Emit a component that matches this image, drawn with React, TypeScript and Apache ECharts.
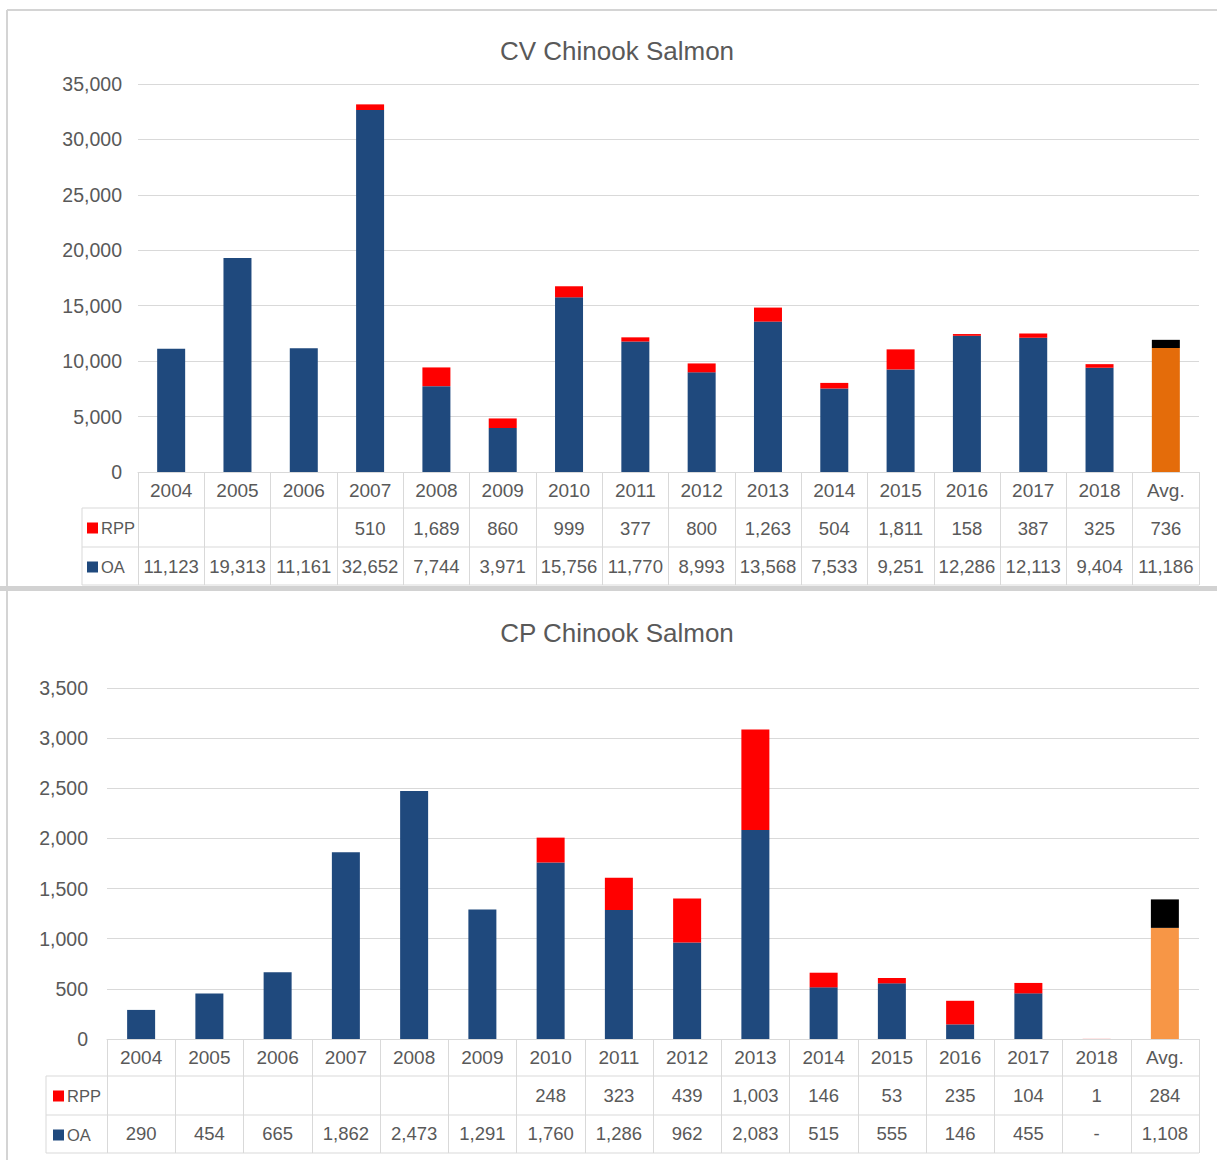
import { useEffect, useRef } from 'react';
import * as echarts from 'echarts';

const categories = ['2004', '2005', '2006', '2007', '2008', '2009', '2010', '2011', '2012', '2013', '2014', '2015', '2016', '2017', '2018', 'Avg.'];

const cvOA = [11123, 19313, 11161, 32652, 7744, 3971, 15756, 11770, 8993, 13568, 7533, 9251, 12286, 12113, 9404, 11186];
const cvRPP = [null, null, null, 510, 1689, 860, 999, 377, 800, 1263, 504, 1811, 158, 387, 325, 736];

const cpOA = [290, 454, 665, 1862, 2473, 1291, 1760, 1286, 962, 2083, 515, 555, 146, 455, null, 1108];
const cpRPP = [null, null, null, null, null, null, 248, 323, 439, 1003, 146, 53, 235, 104, 1, 284];

const seriesNames = ['RPP', 'OA'];
const titles = ['CV Chinook Salmon', 'CP Chinook Salmon'];

const FONT = "'Liberation Sans', Arial, sans-serif";
const TEXT = '#595959';
const GRID_LINE = '#d9d9d9';
const OA_COLOR = '#1F497D';
const RPP_COLOR = '#FF0000';

const fmt = (v: number | null) => (v == null ? '' : v.toLocaleString('en-US'));

type Panel = {
  title: string;
  oa: (number | null)[];
  rpp: (number | null)[];
  avgColor: string;
  max: number;
  interval: number;
  left: number;
  top: number;
  height: number;
  titleTop: number;
  legendLeft: number;
  legendTop: number;
  tableLeft: number;
  rows: number[];
};

const panels: Panel[] = [
  {
    title: titles[0], oa: cvOA, rpp: cvRPP, avgColor: '#E46C0A', max: 35000, interval: 5000,
    left: 138, top: 84, height: 388, titleTop: 38, legendLeft: 87, legendTop: 518,
    tableLeft: 82, rows: [508, 547, 585],
  },
  {
    title: titles[1], oa: cpOA, rpp: cpRPP, avgColor: '#F79646', max: 3500, interval: 500,
    left: 107, top: 688, height: 351, titleTop: 620, legendLeft: 53, legendTop: 1086,
    tableLeft: 46, rows: [1076, 1115, 1153],
  },
];

const RIGHT = 1199;

export default function App() {
  const ref = useRef<HTMLDivElement>(null);
  useEffect(() => {
    if (!ref.current) return;
    const chart = echarts.init(ref.current, null, { renderer: 'svg' });

    const graphic: any[] = [
      { type: 'line', shape: { x1: 7, y1: 10, x2: 1217, y2: 10 }, style: { stroke: '#d4d4d4', lineWidth: 2 } },
      { type: 'line', shape: { x1: 7, y1: 10, x2: 7, y2: 586 }, style: { stroke: '#d4d4d4', lineWidth: 2 } },
      { type: 'rect', shape: { x: 0, y: 586, width: 1217, height: 5 }, style: { fill: '#d2d2d2' } },
      { type: 'line', shape: { x1: 7, y1: 591, x2: 7, y2: 1160 }, style: { stroke: '#d4d4d4', lineWidth: 2 } },
    ];
    panels.forEach((p) => {
      p.rows.forEach((y) => {
        graphic.push({ type: 'line', shape: { x1: p.tableLeft, y1: y, x2: RIGHT, y2: y }, style: { stroke: GRID_LINE, lineWidth: 1 } });
      });
      graphic.push({ type: 'line', shape: { x1: p.tableLeft, y1: p.rows[0], x2: p.tableLeft, y2: p.rows[2] }, style: { stroke: GRID_LINE, lineWidth: 1 } });
    });

    const option: any = {
      animation: false,
      backgroundColor: '#ffffff',
      textStyle: { fontFamily: FONT, color: TEXT },
      title: panels.map((p) => ({
        text: p.title,
        left: 617,
        textAlign: 'center',
        top: p.titleTop,
        padding: 0,
        textStyle: { fontFamily: FONT, fontSize: 26, fontWeight: 'normal', color: TEXT },
      })),
      legend: panels.map((p) => ({
        data: seriesNames,
        orient: 'vertical',
        left: p.legendLeft,
        top: p.legendTop,
        padding: 0,
        itemGap: 19,
        itemWidth: 11,
        itemHeight: 11,
        icon: 'rect',
        selectedMode: false,
        textStyle: { fontFamily: FONT, fontSize: 16.5, color: TEXT, lineHeight: 20, padding: [0, 0, 0, -2] },
      })),
      grid: panels.map((p) => ({ left: p.left, width: RIGHT - p.left, top: p.top, height: p.height })),
      xAxis: panels.map((p, gi) => ({
        type: 'category',
        gridIndex: gi,
        data: categories,
        axisLine: { show: true, lineStyle: { color: GRID_LINE, width: 1 } },
        axisTick: { show: true, alignWithLabel: false, length: p.rows[2] - (p.top + p.height), lineStyle: { color: GRID_LINE } },
        axisLabel: {
          interval: 0,
          margin: 0,
          hideOverlap: false,
          fontFamily: FONT,
          fontSize: 18,
          color: TEXT,
          lineHeight: 38,
          formatter: (value: string, idx: number) => {
            const r = p.rpp[idx];
            const o = p.oa[idx];
            const rs = r == null ? ' ' : fmt(r);
            const os = o == null ? '-' : fmt(o);
            return `{y|${value}}\n{c|${rs}}\n{c|${os}}`;
          },
          rich: {
            y: { fontFamily: FONT, fontSize: 19, color: TEXT, lineHeight: 37, align: 'center' },
            c: { fontFamily: FONT, fontSize: 18.5, color: TEXT, lineHeight: 38.5, align: 'center' },
          },
        },
      })),
      yAxis: panels.map((p, gi) => ({
        type: 'value',
        gridIndex: gi,
        min: 0,
        max: p.max,
        interval: p.interval,
        axisLine: { show: false },
        axisTick: { show: false },
        splitLine: { lineStyle: { color: GRID_LINE, width: 1 } },
        axisLabel: {
          fontFamily: FONT,
          fontSize: 19.5,
          color: TEXT,
          margin: gi === 0 ? 16 : 19,
          formatter: (v: number) => v.toLocaleString('en-US'),
        },
      })),
      series: panels.flatMap((p, gi) => [
        {
          name: 'OA',
          type: 'bar',
          stack: 'total' + gi,
          xAxisIndex: gi,
          yAxisIndex: gi,
          barWidth: 28,
          itemStyle: { color: OA_COLOR },
          data: p.oa.map((v, i) => (i === categories.length - 1 ? { value: v, itemStyle: { color: p.avgColor } } : v)),
        },
        {
          name: 'RPP',
          type: 'bar',
          stack: 'total' + gi,
          xAxisIndex: gi,
          yAxisIndex: gi,
          barWidth: 28,
          itemStyle: { color: RPP_COLOR },
          data: p.rpp.map((v, i) => (i === categories.length - 1 ? { value: v, itemStyle: { color: '#000000' } } : v)),
        },
      ]),
      graphic,
    };

    chart.setOption(option);
    return () => chart.dispose();
  }, []);

  return <div ref={ref} style={{ position: 'absolute', left: 0, top: 0, width: 1217, height: 1160 }} />;
}
